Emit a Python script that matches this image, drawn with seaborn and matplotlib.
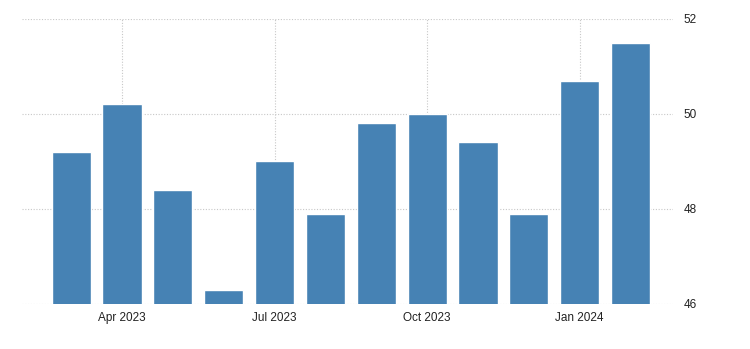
import matplotlib
matplotlib.use("Agg")
import matplotlib.pyplot as plt
import seaborn as sns
import pandas as pd

months = ["Mar 2023", "Apr 2023", "May 2023", "Jun 2023", "Jul 2023", "Aug 2023",
          "Sep 2023", "Oct 2023", "Nov 2023", "Dec 2023", "Jan 2024", "Feb 2024"]
values = [49.2, 50.2, 48.4, 46.3, 49.0, 47.9, 49.8, 50.0, 49.4, 47.9, 50.7, 51.5]
tick_labels = ["Apr 2023", "Jul 2023", "Oct 2023", "Jan 2024"]
y_ticks = [46, 48, 50, 52]

df = pd.DataFrame({"month": months, "value": values})

sns.set_style("white")
plt.rcParams['font.family'] = ['Liberation Sans', 'DejaVu Sans']

fig = plt.figure(figsize=(7.5, 3.49), dpi=100)
ax = fig.add_axes([0.029, 0.129, 0.868, 0.8166])

sns.barplot(data=df, x="month", y="value", color="#4682B4", saturation=1,
            width=0.77, ax=ax, zorder=3)

ax.set_ylim(46, 52)
ax.set_xlim(-0.97, 11.83)
ax.set_yticks(y_ticks)
ax.set_yticklabels([str(v) for v in y_ticks])
ax.yaxis.tick_right()

tick_pos = [months.index(t) for t in tick_labels]
ax.set_xticks(tick_pos)
ax.set_xticklabels(tick_labels)

ax.grid(True, axis="both", color="#c8c8c8", linestyle=(0, (1, 1.5)), linewidth=0.8, zorder=0)
ax.set_axisbelow(True)

for s in ax.spines.values():
    s.set_visible(False)

ax.tick_params(axis="x", length=4, width=0.8, color="#c8c8c8", labelsize=8.5,
               labelcolor="#222222", pad=2)
ax.tick_params(axis="y", length=0, labelsize=8.5, labelcolor="#222222", pad=8)
ax.set_xlabel("")
ax.set_ylabel("")

fig.savefig("out.png", dpi=100)
